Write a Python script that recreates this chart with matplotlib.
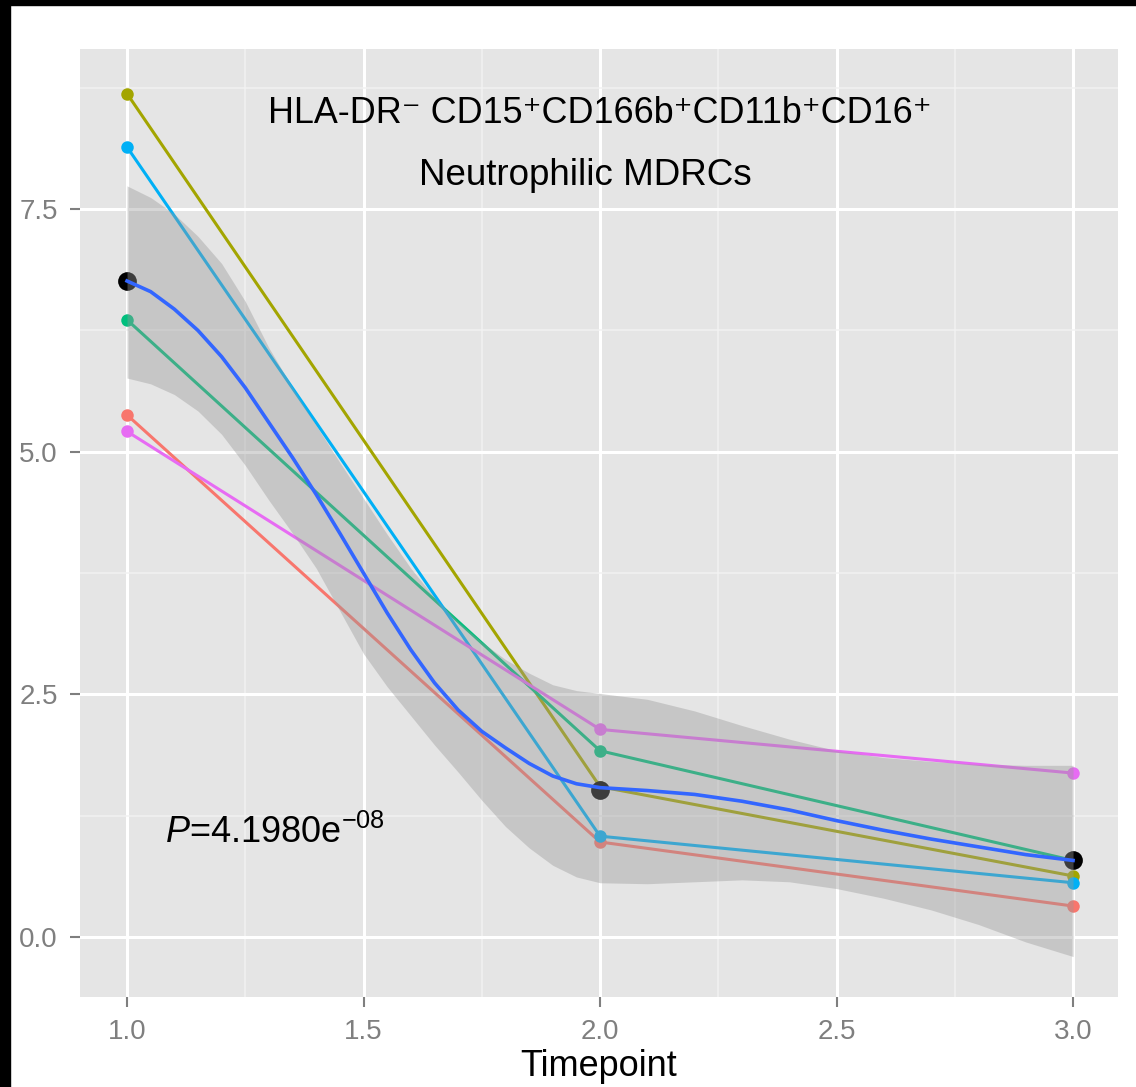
import matplotlib
matplotlib.use("Agg")
import matplotlib.pyplot as plt
from matplotlib.patches import Rectangle

plt.rcParams['font.family'] = ['Liberation Sans', 'DejaVu Sans']
plt.rcParams['mathtext.fontset'] = 'custom'
plt.rcParams['mathtext.rm'] = 'Liberation Sans'
plt.rcParams['mathtext.it'] = 'Liberation Sans:italic'

# observed values per subject at each timepoint
timepoints = [1, 2, 3]
subj_red = [5.38, 0.98, 0.32]
subj_olive = [8.69, 1.55, 0.63]
subj_green = [6.36, 1.92, 0.79]
subj_blue = [8.14, 1.04, 0.56]
subj_pink = [5.21, 2.14, 1.69]
mean_vals = [6.76, 1.52, 0.79]

# loess smooth + 95% band
fit_x = [1.0, 1.05, 1.1, 1.15, 1.2, 1.25, 1.3, 1.35, 1.4, 1.45, 1.5,
         1.55, 1.6, 1.65, 1.7, 1.75, 1.8, 1.85, 1.9, 1.95, 2.0,
         2.1, 2.2, 2.3, 2.4, 2.5, 2.6, 2.7, 2.8, 2.9, 3.0]
fit_y = [6.76, 6.65, 6.47, 6.25, 5.98, 5.66, 5.30, 4.94, 4.56, 4.16, 3.75,
         3.34, 2.96, 2.62, 2.34, 2.12, 1.95, 1.79, 1.66, 1.58, 1.54,
         1.51, 1.47, 1.40, 1.31, 1.20, 1.10, 1.01, 0.93, 0.85, 0.79]
band_hi = [7.74, 7.62, 7.45, 7.22, 6.94, 6.55, 6.07, 5.66, 5.27, 4.89, 4.52,
           4.15, 3.80, 3.50, 3.25, 3.04, 2.86, 2.72, 2.60, 2.54, 2.51,
           2.45, 2.33, 2.18, 2.04, 1.92, 1.85, 1.81, 1.78, 1.77, 1.77]
band_lo = [5.76, 5.70, 5.59, 5.42, 5.18, 4.86, 4.50, 4.16, 3.80, 3.36, 2.92,
           2.58, 2.28, 1.98, 1.70, 1.41, 1.14, 0.92, 0.74, 0.62, 0.56,
           0.55, 0.57, 0.59, 0.57, 0.50, 0.40, 0.28, 0.13, -0.05, -0.20]

series = [
    (subj_red, '#F8766D'),
    (subj_olive, '#A3A500'),
    (subj_green, '#00BF7D'),
    (subj_blue, '#00B0F6'),
    (subj_pink, '#E76BF3'),
]

fig = plt.figure(figsize=(11.36, 10.87), dpi=100)
ax = fig.add_axes([80 / 1136, 1 - 997 / 1087, 1038 / 1136, 948 / 1087])
ax.set_facecolor('#E5E5E5')

for vals, col in series:
    ax.plot(timepoints, vals, color=col, lw=2.2, marker='o', ms=9,
            mec='none', zorder=2)
ax.plot(timepoints, mean_vals, 'o', color='black', ms=13.5, mec='none', zorder=3)

ax.fill_between(fit_x, band_lo, band_hi, color='#999999', alpha=0.4,
                lw=0, zorder=4)
ax.plot(fit_x, fit_y, color='#3366FF', lw=2.6, zorder=5)

ax.text(2.0, 8.39, 'HLA-DR\u207b CD15\u207aCD166b\u207aCD11b\u207aCD16\u207a',
        fontsize=25.8, ha='center', va='baseline', zorder=6)
ax.text(1.97, 7.75, 'Neutrophilic MDRCs', fontsize=26.5, ha='center',
        va='baseline', zorder=6)
ax.text(1.08, 0.967, r'$\it{P}$=4.1980e$^{-08}$', fontsize=26, ha='left',
        va='baseline', zorder=6)

ax.set_xlim(0.9006, 3.095)
ax.set_ylim(-0.617, 9.15)
ax.set_xticks([1.0, 1.5, 2.0, 2.5, 3.0])
ax.set_xticklabels(['1.0', '1.5', '2.0', '2.5', '3.0'])
ax.set_yticks([0.0, 2.5, 5.0, 7.5])
ax.set_yticklabels(['0.0', '2.5', '5.0', '7.5'])
ax.set_xticks([1.25, 1.75, 2.25, 2.75], minor=True)
ax.set_yticks([1.25, 3.75, 6.25, 8.75], minor=True)
ax.grid(which='major', color='white', lw=2.2)
ax.grid(which='minor', color='#F2F2F2', lw=1.1)
ax.set_axisbelow(True)
ax.tick_params(which='major', length=7, width=1.5, color='#7F7F7F',
               labelcolor='#7F7F7F', labelsize=20, pad=9)
ax.tick_params(which='minor', length=0)
for s in ax.spines.values():
    s.set_visible(False)

ax.set_xlabel('Timepoint', fontsize=26, labelpad=3)

# black frame strips at top and left
fig.patches.append(Rectangle((0, 1 - 5 / 1087), 1, 5 / 1087,
                             transform=fig.transFigure, color='black'))
fig.patches.append(Rectangle((0, 0), 10 / 1136, 1,
                             transform=fig.transFigure, color='black'))

fig.savefig('out.png', dpi=100)
